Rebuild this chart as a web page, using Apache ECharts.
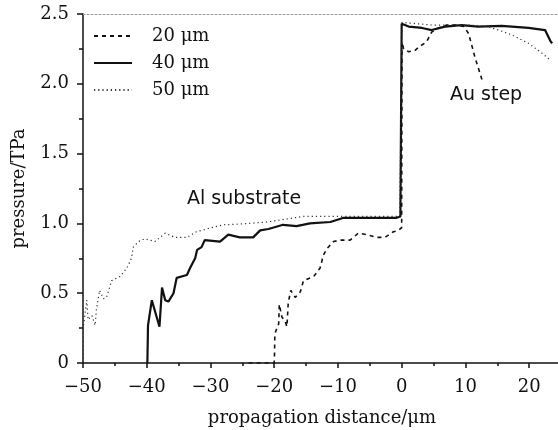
<!DOCTYPE html>
<html><head><meta charset="utf-8">
<script src="https://cdn.jsdelivr.net/npm/echarts@6/dist/echarts.min.js"></script>
<style>html,body{margin:0;padding:0;background:#fff}#c{width:558px;height:430px}</style>
</head><body><div id="c"></div>
<script>
const seriesNames = ['20 μm', '40 μm', '50 μm'];
const xTicks = [-50, -40, -30, -20, -10, 0, 10, 20];
const yTicks = [0, 0.5, 1.0, 1.5, 2.0, 2.5];

const x20 = [-24, -20, -19.95, -19.9, -19.3, -19.2, -18.8, -18.3, -18.0, -17.8, -17.4, -16.7, -15.9, -15.4, -13.8, -12.8, -12.3, -11.7, -10.7, -9.7, -8.1, -6.8, -5.5, -3.9, -2.6, -1.3, -0.5, 0.0, 0.05, 0.3, 1.1, 2.1, 2.9, 3.9, 4.7, 5.8, 7.0, 8.5, 9.8, 10.5, 11.5, 12.6];
const y20 = [0, 0, 0.07, 0.21, 0.28, 0.42, 0.33, 0.30, 0.26, 0.43, 0.52, 0.47, 0.51, 0.59, 0.62, 0.68, 0.77, 0.82, 0.87, 0.88, 0.88, 0.93, 0.92, 0.90, 0.90, 0.94, 0.95, 0.97, 2.30, 2.25, 2.23, 2.24, 2.27, 2.30, 2.37, 2.40, 2.42, 2.42, 2.41, 2.36, 2.19, 2.03];

const x40 = [-39.9, -39.8, -39.2, -38.0, -37.6, -37.1, -36.6, -35.8, -35.3, -33.7, -33.2, -32.4, -32.1, -31.4, -30.9, -30.6, -28.5, -27.2, -25.4, -23.3, -22.2, -20.9, -18.6, -16.5, -14.4, -11.2, -9.1, -4.9, -0.8, -0.2, 0.0, 1.1, 3.2, 4.7, 6.8, 9.4, 12.0, 15.7, 19.9, 22.5, 23.3, 23.6];
const y40 = [0, 0.27, 0.45, 0.26, 0.54, 0.45, 0.44, 0.50, 0.61, 0.63, 0.68, 0.75, 0.81, 0.83, 0.88, 0.89, 0.87, 0.92, 0.90, 0.90, 0.95, 0.96, 0.99, 0.98, 1.00, 1.01, 1.04, 1.04, 1.04, 1.05, 2.43, 2.41, 2.40, 2.385, 2.41, 2.42, 2.41, 2.415, 2.40, 2.385, 2.31, 2.29];

const x50 = [-50, -49.95, -49.4, -49.2, -48.6, -48.1, -47.9, -47.4, -46.8, -46.3, -45.5, -44.2, -43.1, -42.4, -42.1, -41.3, -40.3, -38.7, -37.1, -35.6, -33.7, -32.2, -30.6, -28.0, -25.4, -21.2, -15.4, -10.2, -5, -0.3, 0.05, 2.5, 5, 8, 11, 13.5, 15.2, 17.3, 19.9, 22.0, 23.3];
const y50 = [0, 0.26, 0.45, 0.31, 0.34, 0.27, 0.38, 0.52, 0.46, 0.47, 0.59, 0.62, 0.68, 0.75, 0.83, 0.87, 0.89, 0.87, 0.93, 0.90, 0.90, 0.94, 0.96, 0.99, 0.995, 1.01, 1.05, 1.05, 1.05, 1.05, 2.44, 2.43, 2.42, 2.42, 2.42, 2.41, 2.385, 2.35, 2.29, 2.22, 2.17];

const zip = (xs, ys) => xs.map((x, i) => [x, ys[i]]);
const serif = 'DejaVu Serif';

const chart = echarts.init(document.getElementById('c'), null, {renderer: 'canvas'});
chart.setOption({
  animation: false,
  backgroundColor: '#fff',
  grid: {left: 83, right: -3, top: 14, bottom: 67, containLabel: false, outerBoundsMode: 'none'},
  legend: {
    orient: 'vertical', left: 88, top: 22,
    itemWidth: 38, itemHeight: 14, itemGap: 9,
    data: seriesNames,
    itemStyle: {opacity: 0},
    textStyle: {fontFamily: serif, fontSize: 18, color: '#111', padding: [0, 0, 0, 15]},
    inactiveColor: '#111'
  },
  xAxis: [{
    type: 'value', min: -50, max: 25, interval: 10,
    axisLine: {onZero: false, lineStyle: {color: '#111', width: 1.5}},
    axisTick: {show: true, length: 5, lineStyle: {color: '#111', width: 1.5}},
    minorTick: {show: true, splitNumber: 2, length: 3, lineStyle: {color: '#111', width: 1.5}},
    splitLine: {show: false},
    axisLabel: {
      fontFamily: serif, fontSize: 18, color: '#111', margin: 15,
      formatter: v => xTicks.includes(v) ? (v < 0 ? '\u2212' + Math.abs(v) : String(v)) : ''
    },
    name: 'propagation distance/μm', nameLocation: 'middle', nameGap: 46,
    nameTextStyle: {fontFamily: serif, fontSize: 18, color: '#111'}
  }, {
    type: 'value', min: -50, max: 25, position: 'top',
    axisLine: {show: true, onZero: false, lineStyle: {color: '#999', width: 1, type: [2, 2]}},
    axisTick: {show: false}, axisLabel: {show: false}, splitLine: {show: false}
  }],
  yAxis: {
    type: 'value', min: 0, max: 2.5, interval: 0.5, position: 'left',
    axisLine: {show: true, onZero: false, lineStyle: {color: '#111', width: 1.5}},
    axisTick: {show: true, length: 6, lineStyle: {color: '#111', width: 1.5}},
    minorTick: {show: true, splitNumber: 2, length: 4, lineStyle: {color: '#111', width: 1.5}},
    splitLine: {show: false},
    axisLabel: {
      fontFamily: serif, fontSize: 18, color: '#111', margin: 14,
      formatter: v => yTicks.includes(v) ? (v === 0 ? '0' : v.toFixed(1)) : ''
    },
    name: 'pressure/TPa', nameLocation: 'middle', nameGap: 55,
    nameTextStyle: {fontFamily: serif, fontSize: 18, color: '#111'}
  },
  graphic: [
    {type: 'text', left: 187, top: 190, style: {text: 'Al substrate', font: '19px "DejaVu Sans"', fill: '#111'}},
    {type: 'text', left: 450, top: 86, style: {text: 'Au step', font: '19px "DejaVu Sans"', fill: '#111'}}
  ],
  series: [
    {name: seriesNames[0], type: 'line', data: zip(x20, y20), symbol: 'none', xAxisIndex: 0,
     lineStyle: {color: '#111', width: 1.6, type: [4, 4]}, itemStyle: {color: '#111'}},
    {name: seriesNames[1], type: 'line', data: zip(x40, y40), symbol: 'none', xAxisIndex: 0,
     lineStyle: {color: '#111', width: 2.2}, itemStyle: {color: '#111'}},
    {name: seriesNames[2], type: 'line', data: zip(x50, y50), symbol: 'none', xAxisIndex: 0,
     lineStyle: {color: '#333', width: 1.2, type: [1.2, 3]}, itemStyle: {color: '#333'}}
  ]
});
</script></body></html>
